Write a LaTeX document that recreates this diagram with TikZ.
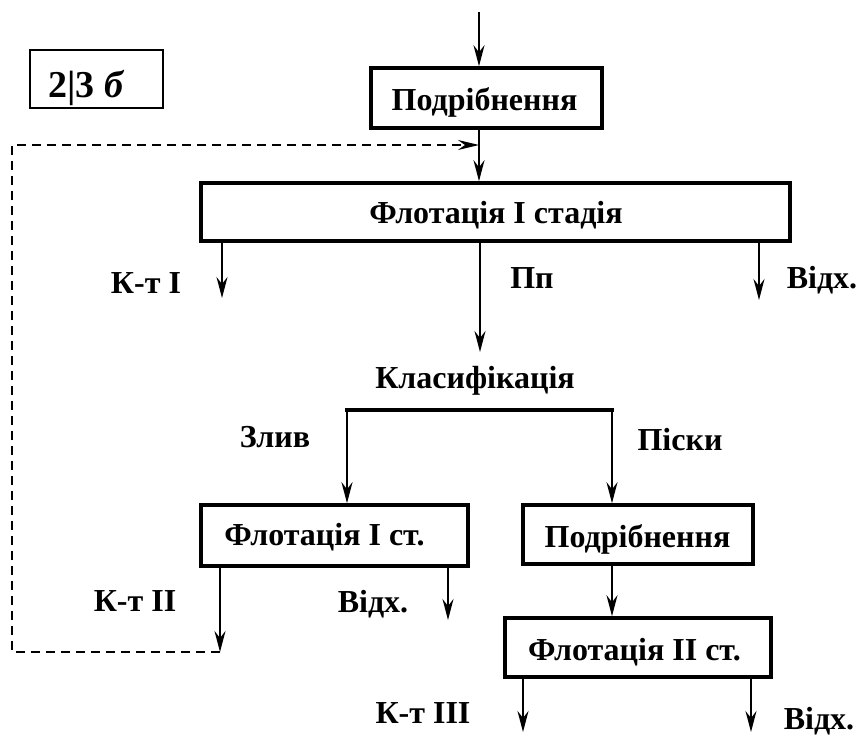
\documentclass[tikz,border=0pt]{standalone}
\usepackage{fontspec}
\setmainfont{Liberation Serif}
\usetikzlibrary{arrows.meta}
\newcommand\dgfont{\fontsize{32}{37}\selectfont\bfseries}
\begin{document}
\begin{tikzpicture}[x=1pt,y=-1pt,
  box/.style={draw, line width=3.6pt, inner sep=0pt, fill=white},
  tagbox/.style={draw, line width=1.8pt, inner sep=0pt},
  txt/.style={font=\dgfont, inner sep=0pt, anchor=base},
  flow/.style={line width=2pt, -{Stealth[length=21pt,width=11pt,inset=7pt]}},
  retflow/.style={line width=1.6pt, dash pattern=on 9pt off 6pt, -{Stealth[length=21pt,width=10pt,inset=7pt]}},
  bar/.style={line width=4.5pt, line cap=rect}]
\useasboundingbox (0,0) rectangle (860,736);

% label box
\node[tagbox, minimum width=133pt, minimum height=58pt] (tag) at (96.5,79) {};
\node[txt, font=\fontsize{38}{42}\selectfont\bfseries] (tagt) at (86.5,97) {2|3 \textit{б}};

% boxes
\node[box, minimum width=231pt, minimum height=60pt] (b1) at (486.5,98) {};
\node[txt] (b1t) at (484.5,110) {Подрібнення};
\node[box, minimum width=589pt, minimum height=58pt] (b2) at (495.5,212) {};
\node[txt] (b2t) at (496,223) {Флотація I стадія};
\node[box, minimum width=267pt, minimum height=61pt] (f1) at (334.5,535.5) {};
\node[txt] (f1t) at (324.5,545) {Флотація I ст.};
\node[box, minimum width=230pt, minimum height=59pt] (c2) at (638,534.5) {};
\node[txt] (c2t) at (637.5,547) {Подрібнення};
\node[box, minimum width=266pt, minimum height=59pt] (f2) at (638,647.5) {};
\node[txt] (f2t) at (634.5,660) {Флотація II ст.};

% coordinates
\coordinate (in) at (479,12);
\coordinate (k1) at (222,298);
\coordinate (pp) at (480,352);
\coordinate (w1) at (759,300);
\coordinate (barL) at (347,410);
\coordinate (barR) at (612,410);
\coordinate (k2) at (220,652);
\coordinate (w2) at (448,620);
\coordinate (k3) at (523,732);
\coordinate (w3) at (751,732);
\coordinate (ret) at (479,145);
\coordinate (rc1) at (12,652);
\coordinate (rc2) at (12,145);

% flows
\draw[flow] (in) -- (in |- b1.north);
\draw[flow] (in |- b1.south) -- (in |- b2.north);
\draw[flow] (k1 |- b2.south) -- (k1);
\draw[flow] (pp |- b2.south) -- (pp);
\draw[flow] (w1 |- b2.south) -- (w1);
\draw[bar] (barL) -- (barR);
\draw[flow] (barL) -- (barL |- f1.north);
\draw[flow] (barR) -- (barR |- c2.north);
\draw[flow] (barR |- c2.south) -- (barR |- f2.north);
\draw[flow] (k2 |- f1.south) -- (k2);
\draw[flow] (w2 |- f1.south) -- (w2);
\draw[flow] (k3 |- f2.south) -- (k3);
\draw[flow] (w3 |- f2.south) -- (w3);
\draw[retflow] (k2) -- (rc1) -- (rc2) -- (ret);

% labels
\node[txt] (lk1) at (146,293) {К-т I};
\node[txt] (lpp) at (532,288) {Пп};
\node[txt] (lw1) at (822,288) {Відх.};
\node[txt] (lcl) at (475,388) {Класифікація};
\node[txt] (lzl) at (275,447) {Злив};
\node[txt] (lps) at (680,450) {Піски};
\node[txt] (lk2) at (135,611) {К-т II};
\node[txt] (lw2) at (373,612) {Відх.};
\node[txt] (lk3) at (423,723) {К-т III};
\node[txt] (lw3) at (819,729) {Відх.};
\end{tikzpicture}
\end{document}
